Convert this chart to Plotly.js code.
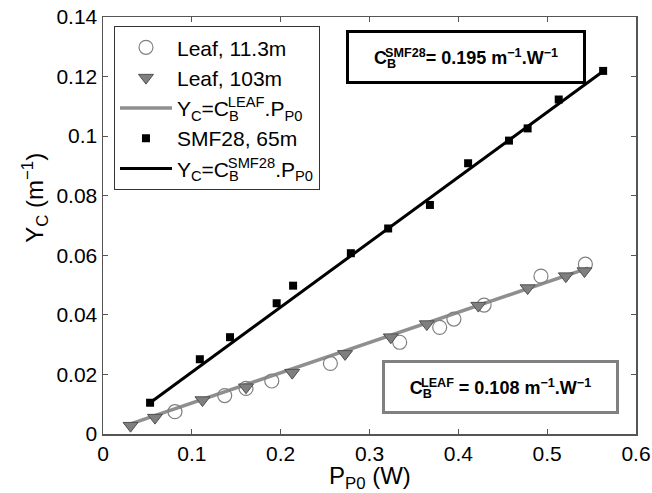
<!DOCTYPE html>
<html>
<head>
<meta charset="utf-8">
<script src="https://cdn.plot.ly/plotly-3.0.1.min.js"></script>
<style>html,body{margin:0;padding:0;background:#fff;}#chart{width:652px;height:493px;}</style>
</head>
<body>
<div id="chart"></div>
<script>
// Leaf, 11.3 m (open circles)
var leaf11X = [0.081, 0.137, 0.161, 0.190, 0.256, 0.334, 0.379, 0.395, 0.429, 0.493, 0.543];
var leaf11Y = [0.0075, 0.0129, 0.0153, 0.0178, 0.0237, 0.0308, 0.0358, 0.0386, 0.0433, 0.0530, 0.0570];
// Leaf, 103 m (triangles)
var leaf103X = [0.031, 0.0585, 0.112, 0.161, 0.213, 0.2725, 0.324, 0.3645, 0.4225, 0.478, 0.521, 0.542];
var leaf103Y = [0.0028, 0.0055, 0.0114, 0.0157, 0.0206, 0.0269, 0.0325, 0.0369, 0.0431, 0.0490, 0.0530, 0.0547];
// SMF28, 65 m (squares)
var smfX = [0.053, 0.109, 0.143, 0.1955, 0.214, 0.279, 0.321, 0.368, 0.411, 0.457, 0.478, 0.513, 0.563];
var smfY = [0.0105, 0.0251, 0.0325, 0.0439, 0.0498, 0.0607, 0.0690, 0.0769, 0.0909, 0.0985, 0.1026, 0.1123, 0.1219];
// Fit lines
var leafFitX = [0.027, 0.546];
var leafFitY = [0.0030, 0.0557];
var smfFitX = [0.053, 0.563];
var smfFitY = [0.0105, 0.1218];

var FONT = 'Liberation Sans, Arial, sans-serif';
function stackB(px) { return '<span style="letter-spacing:-' + px + 'px">B</span>'; }

var traces = [
  {x: leafFitX, y: leafFitY, mode: 'lines', name: 'Y<sub>C</sub>=C<sub>' + stackB(11) + '</sub><sup>LEAF</sup>.P<sub>P0</sub>',
   line: {color: '#8f8f8f', width: 3.5}, legendrank: 3},
  {x: smfFitX, y: smfFitY, mode: 'lines', name: 'Y<sub>C</sub>=C<sub>' + stackB(11) + '</sub><sup>SMF28</sup>.P<sub>P0</sub>',
   line: {color: '#000000', width: 3}, legendrank: 5},
  {x: leaf11X, y: leaf11Y, mode: 'markers', name: 'Leaf, 11.3m',
   marker: {symbol: 'circle-open', size: 14, color: '#808080', line: {width: 1.2, color: '#808080'}}, legendrank: 1},
  {x: leaf103X, y: leaf103Y, mode: 'markers', name: 'Leaf, 103m',
   marker: {symbol: 'triangle-down', size: 13, color: '#7f7f7f', line: {width: 1, color: '#505050'}}, legendrank: 2},
  {x: smfX, y: smfY, mode: 'markers', name: 'SMF28, 65m',
   marker: {symbol: 'square', size: 8, color: '#000000'}, legendrank: 4}
];

var layout = {
  width: 652, height: 493,
  margin: {l: 103, r: 16, t: 17, b: 59},
  paper_bgcolor: '#ffffff', plot_bgcolor: '#ffffff',
  font: {family: FONT, size: 20, color: '#000'},
  showlegend: true,
  legend: {x: 0.0206, y: 0.978, xanchor: 'left', yanchor: 'top', itemwidth: 52,
           bgcolor: '#ffffff', bordercolor: '#333', borderwidth: 1,
           font: {family: FONT, size: 21, color: '#000'}, tracegroupgap: 0},
  xaxis: {range: [0, 0.6], dtick: 0.1, tick0: 0, ticks: 'inside', ticklen: 5, tickcolor: '#555',
          showline: true, linecolor: '#555', linewidth: 1.5, mirror: 'ticks', showgrid: false, zeroline: false,
          tickfont: {family: FONT, size: 21, color: '#000'}},
  yaxis: {range: [0, 0.14], dtick: 0.02, tick0: 0, ticks: 'inside', ticklen: 5, tickcolor: '#555',
          showline: true, linecolor: '#555', linewidth: 1.5, mirror: 'ticks', showgrid: false, zeroline: false,
          tickfont: {family: FONT, size: 21, color: '#000'}},
  annotations: [
    {xref: 'paper', yref: 'paper', x: 0.5, y: -0.104, xanchor: 'center', yanchor: 'middle', showarrow: false,
     text: 'P<sub>P0</sub> (W)', font: {family: FONT, size: 24, color: '#000'}},
    {xref: 'paper', yref: 'paper', x: -0.128, y: 0.566, xanchor: 'center', yanchor: 'middle', showarrow: false,
     textangle: -90, text: 'Y<sub>C</sub> (m<sup>−1</sup>)', font: {family: FONT, size: 24, color: '#000'}},
    {xref: 'paper', yref: 'paper', x: 0.681, y: 0.904, xanchor: 'center', yanchor: 'middle', showarrow: false,
     text: '<b>C<sub>' + stackB(11) + '</sub><sup>SMF28</sup>= 0.195 m<sup>−1</sup>.W<sup>−1</sup></b>',
     font: {family: FONT, size: 18, color: '#000'}, bgcolor: '#fff', bordercolor: '#000', borderwidth: 3,
     width: 232, height: 46, borderpad: 1},
    {xref: 'paper', yref: 'paper', x: 0.7455, y: 0.1127, xanchor: 'center', yanchor: 'middle', showarrow: false,
     text: '<b>C<sub>' + stackB(11) + '</sub><sup>LEAF</sup> = 0.108 m<sup>−1</sup>.W<sup>−1</sup></b>',
     font: {family: FONT, size: 18, color: '#000'}, bgcolor: '#fff', bordercolor: '#808080', borderwidth: 3,
     width: 229, height: 46, borderpad: 1}
  ]
};

Plotly.newPlot('chart', traces, layout, {displayModeBar: false, staticPlot: true});
</script>
</body>
</html>
